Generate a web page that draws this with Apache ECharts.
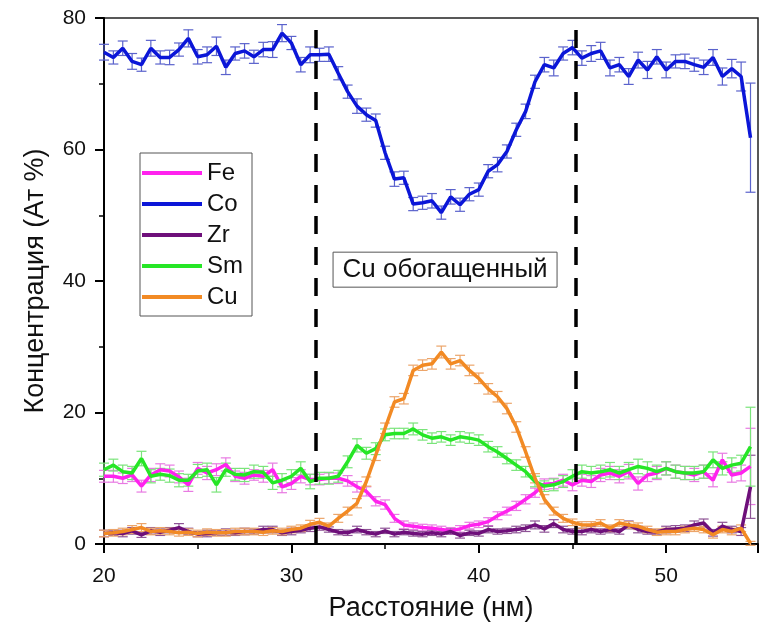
<!DOCTYPE html>
<html>
<head>
<meta charset="utf-8">
<title>Концентрация</title>
<script src="https://cdn.jsdelivr.net/npm/echarts@6.0.0/dist/echarts.min.js"></script>
<style>
  html, body { margin: 0; padding: 0; background: #fff; }
  #main { width: 760px; height: 627px; }
</style>
</head>
<body>
<div id="main"></div>
<script>
// distance along the profile, nm
const dist = [20, 20.5, 21, 21.5, 22, 22.5, 23, 23.5, 24, 24.5,
  25, 25.5, 26, 26.5, 27, 27.5, 28, 28.5, 29, 29.5,
  30, 30.5, 31, 31.5, 32, 32.5, 33, 33.5, 34, 34.5,
  35, 35.5, 36, 36.5, 37, 37.5, 38, 38.5, 39, 39.5,
  40, 40.5, 41, 41.5, 42, 42.5, 43, 43.5, 44, 44.5,
  45, 45.5, 46, 46.5, 47, 47.5, 48, 48.5, 49, 49.5,
  50, 50.5, 51, 51.5, 52, 52.5, 53, 53.5, 54, 54.5];

const fe = [10.3, 10.3, 10.0, 10.5, 8.8, 10.5, 11.3, 11.1, 10.2, 9.0,
  11.5, 10.8, 11.3, 12.1, 10.3, 10.0, 10.5, 10.3, 11.3, 8.7,
  9.2, 10.3, 9.8, 9.8, 10.0, 10.0, 9.6, 8.7, 8.0, 6.5,
  6.0, 3.9, 2.9, 2.7, 2.5, 2.4, 2.2, 2.0, 2.3, 2.8,
  3.0, 3.4, 4.3, 5.0, 5.8, 6.8, 7.8, 9.1, 9.2, 9.7,
  9.0, 9.7, 9.5, 10.5, 10.8, 10.3, 11.0, 9.2, 10.5, 10.8,
  11.5, 11.0, 10.8, 10.5, 11.0, 9.7, 12.8, 10.5, 10.8, 11.8];
const feErr = [0.9, 0.9, 0.8, 1.0, 0.9, 1.0, 0.9, 0.9, 0.9, 1.0,
  0.9, 1.0, 0.9, 1.0, 0.8, 0.9, 0.8, 0.9, 1.0, 0.9,
  0.9, 1.0, 0.8, 0.8, 0.8, 0.8, 0.8, 0.8, 0.7, 0.7,
  0.7, 0.6, 0.6, 0.5, 0.5, 0.5, 0.5, 0.5, 0.5, 0.5,
  0.5, 0.6, 0.6, 0.6, 0.7, 0.7, 0.7, 0.8, 0.8, 0.9,
  0.9, 0.9, 0.9, 1.0, 1.0, 1.0, 1.1, 1.0, 1.0, 1.0,
  1.0, 1.0, 1.0, 1.0, 1.0, 1.0, 1.0, 1.1, 1.2, 5.8];

const co = [74.8, 74.0, 75.4, 73.4, 72.9, 75.4, 74.0, 74.0, 75.2, 76.9,
  74.1, 74.4, 75.7, 72.5, 74.6, 75.0, 74.1, 75.2, 75.2, 77.7,
  76.2, 72.9, 74.4, 74.4, 74.5, 71.6, 68.8, 66.6, 65.3, 64.4,
  59.5, 55.5, 55.7, 51.7, 51.9, 52.2, 50.4, 52.8, 51.6, 53.2,
  53.9, 56.7, 57.7, 59.7, 63.0, 65.8, 70.3, 72.9, 72.4, 74.6,
  75.5, 73.9, 74.6, 75.0, 72.4, 72.9, 71.1, 73.6, 72.1, 74.1,
  72.1, 73.4, 73.4, 72.9, 72.5, 74.0, 71.1, 72.3, 71.1, 61.8];
const coErr = [1.2, 1.0, 1.1, 1.2, 1.0, 1.2, 1.0, 1.1, 1.0, 1.3,
  1.1, 1.2, 1.4, 1.1, 1.0, 1.1, 1.0, 1.1, 1.2, 1.3,
  1.0, 1.1, 1.2, 1.0, 1.1, 1.0, 1.0, 1.1, 1.0, 1.0,
  1.0, 1.1, 1.0, 1.0, 1.0, 1.1, 1.0, 1.1, 1.0, 1.0,
  1.0, 1.0, 1.1, 1.0, 1.0, 1.1, 1.0, 1.1, 1.2, 1.0,
  1.1, 1.1, 1.2, 1.3, 1.2, 1.1, 1.2, 1.2, 1.3, 1.1,
  1.2, 1.0, 1.1, 1.0, 1.1, 1.2, 1.3, 1.4, 2.2, 8.3];

const zr = [1.6, 1.7, 1.6, 2.0, 1.4, 2.0, 1.8, 2.1, 2.5, 1.9,
  1.5, 1.6, 1.7, 1.8, 1.7, 1.9, 1.9, 2.2, 2.2, 1.7,
  1.9, 2.1, 2.4, 2.6, 2.2, 1.8, 1.7, 2.2, 1.8, 1.5,
  2.0, 1.5, 1.8, 1.6, 1.5, 1.7, 1.5, 1.9, 1.3, 1.7,
  1.6, 2.2, 1.9, 2.0, 2.2, 2.4, 2.9, 2.3, 3.1, 2.2,
  1.9, 1.9, 2.2, 1.9, 2.2, 1.9, 2.9, 2.2, 1.9, 1.8,
  2.2, 2.3, 2.4, 2.9, 3.2, 1.7, 2.7, 2.2, 1.9, 8.7];
const zrErr = [0.5, 0.4, 0.5, 0.5, 0.4, 0.5, 0.5, 0.4, 0.6, 0.5,
  0.4, 0.5, 0.4, 0.5, 0.4, 0.5, 0.4, 0.5, 0.5, 0.4,
  0.5, 0.4, 0.5, 0.5, 0.4, 0.4, 0.4, 0.5, 0.4, 0.4,
  0.4, 0.4, 0.4, 0.4, 0.4, 0.4, 0.4, 0.4, 0.4, 0.4,
  0.4, 0.5, 0.4, 0.4, 0.5, 0.5, 0.6, 0.5, 0.6, 0.5,
  0.4, 0.5, 0.5, 0.4, 0.5, 0.4, 0.6, 0.5, 0.4, 0.4,
  0.5, 0.5, 0.5, 0.6, 0.6, 0.5, 0.6, 0.5, 0.6, 4.8];

const sm = [11.3, 12.0, 11.0, 10.8, 13.0, 10.3, 10.6, 10.4, 9.7, 9.7,
  11.1, 11.3, 9.0, 11.3, 10.6, 10.5, 11.0, 10.9, 9.3, 9.7,
  10.3, 11.5, 9.5, 10.0, 10.0, 10.3, 12.5, 15.0, 13.8, 14.5,
  16.6, 16.8, 16.8, 17.5, 16.6, 16.1, 16.3, 15.8, 16.3, 16.1,
  15.8, 14.8, 14.0, 13.0, 12.0, 11.0, 9.5, 8.8, 9.0, 9.5,
  10.3, 11.0, 10.8, 11.0, 11.3, 10.8, 11.3, 11.8, 11.5, 11.0,
  11.5, 11.0, 10.8, 10.8, 11.0, 12.8, 11.5, 12.0, 12.3, 14.8];
const smErr = [1.0, 0.9, 1.0, 1.0, 1.1, 1.0, 0.9, 1.0, 1.0, 0.9,
  1.0, 1.0, 1.1, 1.0, 0.9, 1.0, 1.0, 0.9, 1.0, 1.0,
  1.0, 1.0, 1.1, 0.9, 0.9, 0.9, 0.9, 1.0, 0.9, 0.9,
  0.9, 0.8, 0.8, 0.9, 0.8, 0.8, 0.8, 0.8, 0.8, 0.8,
  0.8, 0.8, 0.8, 0.8, 0.8, 0.8, 0.8, 0.8, 0.9, 0.9,
  1.0, 1.0, 1.0, 1.0, 1.1, 1.0, 1.1, 1.1, 1.0, 1.0,
  1.0, 1.0, 1.0, 1.0, 1.0, 1.2, 1.0, 1.1, 1.2, 6.0];

const cu = [1.6, 1.7, 1.9, 2.2, 2.5, 1.9, 2.0, 1.9, 1.7, 1.8,
  1.6, 1.8, 1.7, 1.7, 1.9, 1.9, 1.9, 1.8, 2.0, 1.9,
  2.2, 2.4, 3.0, 3.3, 2.7, 3.9, 5.0, 6.2, 9.5, 13.5,
  17.6, 21.6, 22.1, 26.4, 27.2, 27.4, 29.2, 27.4, 27.9, 26.4,
  25.2, 23.6, 22.4, 20.6, 17.8, 14.0, 10.0, 6.8, 5.0, 3.9,
  3.3, 2.9, 2.9, 3.2, 2.4, 3.2, 2.9, 2.7, 2.2, 1.8,
  1.9, 1.9, 2.2, 2.4, 2.2, 1.4, 2.2, 1.9, 2.4, 0.1];
const cuErr = [0.5, 0.5, 0.5, 0.6, 0.6, 0.5, 0.5, 0.5, 0.5, 0.5,
  0.5, 0.5, 0.5, 0.5, 0.5, 0.5, 0.5, 0.5, 0.5, 0.5,
  0.5, 0.5, 0.6, 0.6, 0.5, 0.6, 0.6, 0.7, 0.7, 0.8,
  0.8, 0.8, 0.8, 0.8, 0.8, 0.8, 0.9, 0.8, 0.8, 0.8,
  0.8, 0.8, 0.8, 0.8, 0.8, 0.8, 0.7, 0.7, 0.6, 0.6,
  0.5, 0.5, 0.5, 0.5, 0.5, 0.5, 0.5, 0.5, 0.5, 0.5,
  0.5, 0.5, 0.5, 0.5, 0.5, 0.5, 0.5, 0.5, 0.5, 0.3];

const names = ['Fe', 'Co', 'Zr', 'Sm', 'Cu'];
const values = [fe, co, zr, sm, cu];
const errors = [feErr, coErr, zrErr, smErr, cuErr];
const colors = ['#ff22ee', '#0b16d8', '#6e0f7a', '#26e626', '#f28a24'];
const errColors = ['#e87ae2', '#5a62cc', '#8e5496', '#7ae47a', '#eca56a'];

// boundaries of the Cu-rich zone, nm
const zoneEdges = [31.3, 45.2];
const zoneLabel = 'Cu обогащенный';

const FONT = '"Liberation Sans", Arial, sans-serif';

function errorBars(color) {
  return function (params, api) {
    const x = api.value(0), y = api.value(1), e = api.value(2);
    const top = api.coord([x, y + e]);
    const bot = api.coord([x, y - e]);
    const hw = 5;
    const st = { stroke: color, lineWidth: 1.2 };
    return {
      type: 'group',
      children: [
        { type: 'line', shape: { x1: top[0], y1: top[1], x2: bot[0], y2: bot[1] }, style: st },
        { type: 'line', shape: { x1: top[0] - hw, y1: top[1], x2: top[0] + hw, y2: top[1] }, style: st },
        { type: 'line', shape: { x1: bot[0] - hw, y1: bot[1], x2: bot[0] + hw, y2: bot[1] }, style: st }
      ]
    };
  };
}

const series = [];
names.forEach(function (n, k) {
  series.push({
    name: n + ' err',
    type: 'custom',
    renderItem: errorBars(errColors[k]),
    data: dist.map(function (x, i) { return [x, values[k][i], errors[k][i]]; }),
    z: 1,
    silent: true
  });
});
names.forEach(function (n, k) {
  const s = {
    name: n,
    type: 'line',
    data: dist.map(function (x, i) { return [x, values[k][i]]; }),
    showSymbol: false,
    color: colors[k],
    lineStyle: { width: 3.5, color: colors[k] },
    z: 3
  };
  if (n === 'Co') {
    s.markLine = {
      silent: true,
      symbol: ['none', 'none'],
      label: { show: false },
      lineStyle: { color: '#000', width: 3.5, type: [18, 13] },
      data: zoneEdges.map(function (v) { return { xAxis: v }; })
    };
  }
  series.push(s);
});

const chart = echarts.init(document.getElementById('main'));
chart.setOption({
  animation: false,
  textStyle: { fontFamily: FONT },
  grid: {
    left: 104, right: 2, top: 18, bottom: 81,
    show: true, borderColor: '#222', borderWidth: 1.5
  },
  legend: {
    data: names,
    orient: 'vertical',
    left: 140, top: 153,
    padding: [8, 9, 7, 2],
    itemGap: 7,
    itemWidth: 60,
    itemHeight: 4,
    icon: 'rect',
    borderColor: '#555',
    borderWidth: 1,
    textStyle: { fontSize: 24, color: '#111', fontFamily: FONT }
  },
  xAxis: {
    type: 'value',
    min: 20, max: 54.9, interval: 10,
    name: 'Расстояние (нм)',
    nameLocation: 'middle',
    nameGap: 51,
    nameTextStyle: { fontSize: 27, color: '#111', fontFamily: FONT },
    axisLine: { onZero: false, lineStyle: { color: '#000', width: 2 } },
    axisTick: { length: 9, lineStyle: { color: '#000', width: 2 } },
    minorTick: { show: true, splitNumber: 2, length: 5, lineStyle: { color: '#000', width: 1.5 } },
    axisLabel: { fontSize: 21, color: '#111', margin: 22, showMaxLabel: false, fontFamily: FONT },
    splitLine: { show: false }
  },
  yAxis: {
    type: 'value',
    min: 0, max: 80, interval: 20,
    name: 'Концентрация (Ат %)',
    nameLocation: 'middle',
    nameGap: 55,
    nameTextStyle: { fontSize: 27, color: '#111', fontFamily: FONT },
    axisLine: { lineStyle: { color: '#000', width: 2 } },
    axisTick: { length: 9, lineStyle: { color: '#000', width: 2 } },
    minorTick: { show: true, splitNumber: 2, length: 5, lineStyle: { color: '#000', width: 1.5 } },
    axisLabel: { fontSize: 21, color: '#111', margin: 18, fontFamily: FONT },
    splitLine: { show: false }
  },
  series: series
});

// annotation box anchored to data coordinates
const c = chart.convertToPixel({ gridIndex: 0 }, [38.2, 41.8]);
chart.setOption({
  graphic: [{
    type: 'group',
    x: c[0], y: c[1],
    z: 10,
    children: [
      { type: 'rect', shape: { x: -112, y: -17, width: 224, height: 35 },
        style: { fill: '#fff', stroke: '#555', lineWidth: 1 } },
      { type: 'text', x: 0, y: 1,
        style: { text: zoneLabel, fontSize: 26, fontFamily: FONT, fill: '#111',
                 align: 'center', verticalAlign: 'middle' } }
    ]
  }]
});
</script>
</body>
</html>
